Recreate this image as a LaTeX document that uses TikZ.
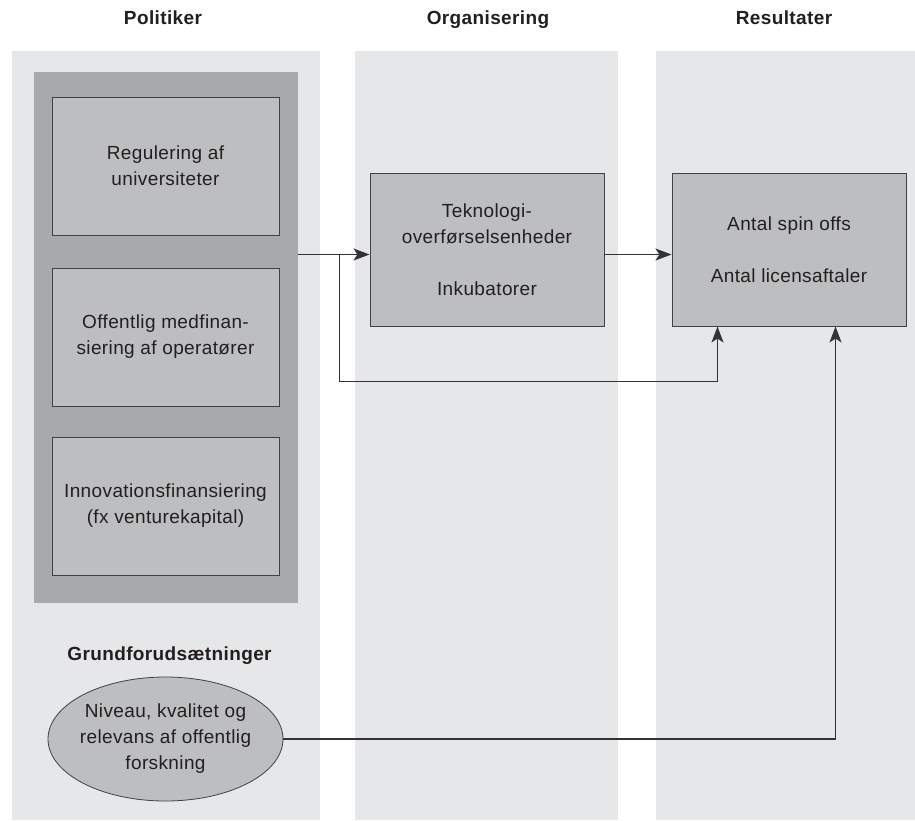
\documentclass[tikz,border=0pt]{standalone}
\usepackage{fontspec}
\setmainfont{Liberation Sans}[LetterSpace=2]
\usetikzlibrary{arrows.meta,shapes.geometric,calc}
\definecolor{colbg}{HTML}{E6E7E8}
\definecolor{grpbg}{HTML}{A7A9AC}
\definecolor{boxbg}{HTML}{BCBEC0}
\definecolor{edgec}{HTML}{414042}
\definecolor{txt}{HTML}{231F20}
\definecolor{conn}{HTML}{333335}
\begin{document}
\begin{tikzpicture}[x=1pt,y=-1pt,
  bodytext/.style={font=\fontsize{19}{26}\selectfont, text=txt, align=center},
  titletext/.style={font=\bfseries\fontsize{19}{24}\selectfont, text=txt, anchor=base},
  pbox/.style={bodytext, fill=boxbg, draw=edgec, line width=1pt, inner sep=0pt,
    minimum width=227pt, minimum height=138pt},
  obox/.style={bodytext, fill=boxbg, draw=edgec, line width=1pt, inner sep=0pt,
    minimum width=234pt, minimum height=153pt},
  arr/.style={draw=conn, line width=1.4pt, -{Stealth[length=16pt,width=12pt,inset=4pt]}},
  conline/.style={draw=conn, line width=1.4pt}]
\useasboundingbox (0,0) rectangle (915,820);
\fill[white] (0,0) rectangle (915,820);
% background columns
\fill[colbg] (12,51) rectangle (320,820);
\fill[colbg] (355,51) rectangle (618,820);
\fill[colbg] (656,51) rectangle (915,820);
% titles
\node[titletext] (t1) at (163,24.5) {Politiker};
\node[titletext] (t2) at (488,24.5) {Organisering};
\node[titletext] (t3) at (784,24.5) {Resultater};
% policy group
\node[fill=grpbg, draw=none, inner sep=0pt, minimum width=264pt, minimum height=531pt] (grp) at (166,337.5) {};
\node[pbox] (b1) at (165.5,166) {Regulering af\\universiteter};
\node[pbox] (b2) at (165.5,337) {Offentlig medfinan-\\siering af operatører};
\node[pbox] (b3) at (165.5,506) {Innovationsfinansiering\\(fx venturekapital)};
% organisation and results
\node[obox] (mid) at (487,249.5) {Teknologi-\\overførselsenheder\\[26pt]Inkubatorer};
\node[obox] (res) at (789,249.5) {Antal spin offs\\[26pt]Antal licensaftaler};
% basic conditions
\node[titletext] (t4) at (169.5,660) {Grundforudsætninger};
\node[bodytext, ellipse, fill=boxbg, draw=edgec, line width=0.8pt, inner xsep=-4pt, inner ysep=0pt,
  minimum width=235pt, minimum height=124pt] (ell) at (165.5,739)
  {Niveau, kvalitet og\\relevans af offentlig\\forskning};
% connectors
\coordinate (a1) at ($(mid.west)+(0,5)$);
\coordinate (br) at ($(grp.east |- a1)+(41,0)$);
\coordinate (r1) at ($(res.south west)+(46,0)$);
\coordinate (r2) at ($(res.south west)+(164,0)$);
\draw[arr] (grp.east |- a1) -- (a1);
\draw[arr] (br) |- ($(r1)+(0,55)$) -- (r1);
\draw[arr] (mid.east |- a1) -- (res.west |- a1);
\draw[arr] (ell.east) -| (r2);
\end{tikzpicture}
\end{document}
